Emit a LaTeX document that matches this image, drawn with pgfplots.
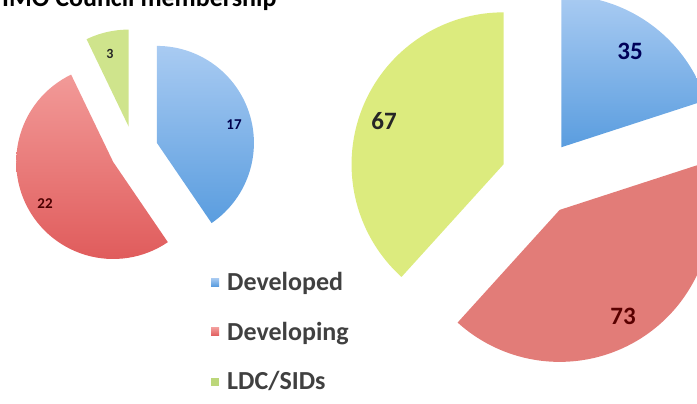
\documentclass[border=0pt]{standalone}
\usepackage{pgfplots}
\pgfplotsset{compat=1.18}
\usepackage{fontspec}
\setmainfont{Carlito}
\definecolor{blueT}{HTML}{A9CBF2}
\definecolor{blueB}{HTML}{5A9DDF}
\definecolor{redT}{HTML}{F29A98}
\definecolor{redB}{HTML}{E05C5C}
\definecolor{redR}{HTML}{E27C78}
\definecolor{greenL}{HTML}{CFE48C}
\definecolor{greenR}{HTML}{DCEB7E}
\definecolor{legB}{HTML}{5B9BD5}
\definecolor{legR}{HTML}{E56B6B}
\definecolor{legG}{HTML}{BCD77A}
% data: left pie (Developed, Developing, LDC/SIDs) and right pie
\def\LA{17}\def\LB{22}\def\LC{3}
\def\RA{35}\def\RB{73}\def\RC{67}
% geometry (picture units = pt)
\def\Lcx{134}\def\Lcy{254}\def\Lr{97}\def\Ld{24}
\def\Rcx{539}\def\Rcy{226}\def\Rr{152}\def\Rd{38}
\pgfmathsetmacro\Ltot{\LA+\LB+\LC}
\pgfmathsetmacro\La{90}
\pgfmathsetmacro\Lb{90-\LA/\Ltot*360}
\pgfmathsetmacro\Lc{\Lb-\LB/\Ltot*360}
\pgfmathsetmacro\Le{\Lc-\LC/\Ltot*360}
\pgfmathsetmacro\Rtot{\RA+\RB+\RC}
\pgfmathsetmacro\Ra{90}
\pgfmathsetmacro\Rb{90-\RA/\Rtot*360}
\pgfmathsetmacro\Rc{\Rb-\RB/\Rtot*360}
\pgfmathsetmacro\Re{\Rc-\RC/\Rtot*360}
% exploded centres
\pgfmathsetmacro\LAx{\Lcx+\Ld*cos((\La+\Lb)/2)}\pgfmathsetmacro\LAy{\Lcy+\Ld*sin((\La+\Lb)/2)}
\pgfmathsetmacro\LBx{\Lcx+\Ld*cos((\Lb+\Lc)/2)}\pgfmathsetmacro\LBy{\Lcy+\Ld*sin((\Lb+\Lc)/2)}
\pgfmathsetmacro\LCx{\Lcx+\Ld*cos((\Lc+\Le)/2)}\pgfmathsetmacro\LCy{\Lcy+\Ld*sin((\Lc+\Le)/2)}
\pgfmathsetmacro\RAx{\Rcx+\Rd*cos((\Ra+\Rb)/2)}\pgfmathsetmacro\RAy{\Rcy+\Rd*sin((\Ra+\Rb)/2)}
\pgfmathsetmacro\RBx{\Rcx+\Rd*cos((\Rb+\Rc)/2)}\pgfmathsetmacro\RBy{\Rcy+\Rd*sin((\Rb+\Rc)/2)}
\pgfmathsetmacro\RCx{\Rcx+\Rd*cos((\Rc+\Re)/2)}\pgfmathsetmacro\RCy{\Rcy+\Rd*sin((\Rc+\Re)/2)}
\begin{document}
\begin{tikzpicture}
\begin{scope}
\clip (0,0) rectangle (697pt,404pt);
\begin{axis}[
  at={(0,0)}, anchor=origin,
  scale only axis, width=697pt, height=404pt,
  xmin=0, xmax=697, ymin=0, ymax=404,
  axis lines=none, clip=false,
  legend style={draw=none, fill=none, at={(axis cs:211,133)}, anchor=north west,
    font=\fontsize{26}{30}\bfseries\selectfont\color{black!75}, row sep=28pt,
    inner sep=0pt, nodes={inner xsep=8pt, inner ysep=1pt}},
  legend cell align=left,
]
% left pie
\addplot[draw=none, top color=blueT, bottom color=blueB, domain=\Lb:\La, samples=60, variable=\t,
  legend image code/.code={\fill[legB] (1pt,-4pt) rectangle (9pt,4pt);}]
  ({\LAx+\Lr*cos(\t)},{\LAy+\Lr*sin(\t)}) -- (axis cs:\LAx,\LAy) -- cycle;
\addlegendentry{Developed}
\addplot[draw=none, top color=redT, bottom color=redB, domain=\Lc:\Lb, samples=60, variable=\t,
  legend image code/.code={\fill[legR] (1pt,-4pt) rectangle (9pt,4pt);}]
  ({\LBx+\Lr*cos(\t)},{\LBy+\Lr*sin(\t)}) -- (axis cs:\LBx,\LBy) -- cycle;
\addlegendentry{Developing}
\addplot[draw=none, fill=greenL, domain=\Le:\Lc, samples=20, variable=\t,
  legend image code/.code={\fill[legG] (1pt,-4pt) rectangle (9pt,4pt);}]
  ({\LCx+\Lr*cos(\t)},{\LCy+\Lr*sin(\t)}) -- (axis cs:\LCx,\LCy) -- cycle;
\addlegendentry{LDC/SIDs}
% right pie
\addplot[draw=none, top color=blueT, bottom color=blueB, domain=\Rb:\Ra, samples=60, variable=\t, forget plot]
  ({\RAx+\Rr*cos(\t)},{\RAy+\Rr*sin(\t)}) -- (axis cs:\RAx,\RAy) -- cycle;
\addplot[draw=none, fill=redR, domain=\Rc:\Rb, samples=80, variable=\t, forget plot]
  ({\RBx+\Rr*cos(\t)},{\RBy+\Rr*sin(\t)}) -- (axis cs:\RBx,\RBy) -- cycle;
\addplot[draw=none, fill=greenR, domain=\Re:\Rc, samples=80, variable=\t, forget plot]
  ({\RCx+\Rr*cos(\t)},{\RCy+\Rr*sin(\t)}) -- (axis cs:\RCx,\RCy) -- cycle;
% value labels
\node[font=\fontsize{15}{18}\bfseries\selectfont, text=blue!30!black] at (axis cs:234,279) {17};
\node[font=\fontsize{15}{18}\bfseries\selectfont, text=red!30!black] at (axis cs:45,200) {22};
\node[font=\fontsize{14}{18}\bfseries\selectfont, text=black!85] at (axis cs:110,350) {3};
\node[font=\fontsize{25}{30}\bfseries\selectfont, text=blue!35!black] at (axis cs:630,353) {35};
\node[font=\fontsize{25}{30}\bfseries\selectfont, text=black!85] at (axis cs:384,283) {67};
\node[font=\fontsize{25}{30}\bfseries\selectfont, text=red!35!black] at (axis cs:623,88) {73};
% title (cut at the top edge, as in the original)
\node[anchor=base west, font=\fontsize{26}{30}\bfseries\selectfont, inner sep=0pt] at (axis cs:2,397.5) {IMO Council membership};
\end{axis}
\end{scope}
\pgfresetboundingbox
\useasboundingbox (0,0) rectangle (697pt,404pt);
\end{tikzpicture}
\end{document}
